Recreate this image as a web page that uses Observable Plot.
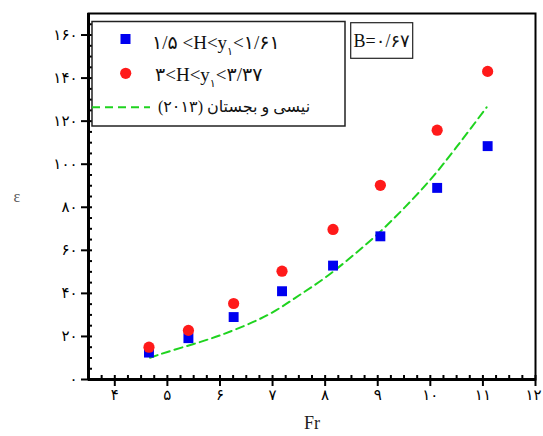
<!DOCTYPE html>
<html><head><meta charset="utf-8">
<script src="https://cdn.jsdelivr.net/npm/d3@7"></script>
<script src="https://cdn.jsdelivr.net/npm/@observablehq/plot@0.6"></script>
<style>body{margin:0;background:#fff} svg{display:block}</style>
</head><body><div id="chart"></div>
<script>
// Data
const fr = [4.65, 5.40, 6.26, 7.18, 8.15, 9.05, 10.13, 11.09];
const epsLow = [12.5, 19.2, 29.0, 41.0, 52.9, 66.5, 89.0, 108.4];   // 1.5<H<y1<1.61
const epsHigh = [15.0, 22.8, 35.3, 50.3, 69.7, 90.2, 115.8, 143.1]; // 3<H<y1<3.37
const curveFr = [4.67, 5.0, 5.5, 6.0, 6.5, 7.0, 7.5, 8.0, 8.5, 9.0, 9.5, 10.0, 10.5, 11.07];
const curveEps = [10.1, 12.8, 16.5, 20.5, 25.3, 31.2, 39.0, 47.3, 57.0, 67.6, 79.6, 92.8, 108.0, 126.4];
const xTicks = [4, 5, 6, 7, 8, 9, 10, 11, 12];
const xTickLabels = ["۴", "۵", "۶", "۷", "۸", "۹", "۱۰", "۱۱", "۱۲"];
const yTicks = [0, 20, 40, 60, 80, 100, 120, 140, 160];
const yTickLabels = ["۰", "۲۰", "۴۰", "۶۰", "۸۰", "۱۰۰", "۱۲۰", "۱۴۰", "۱۶۰"];
const xMinor = d3.range(3.75, 12.01, 0.25);
const yMinor = d3.range(5, 170, 5);
const legendLow = ["۱/۵ <H<y", "۱", "<۱/۶۱"];
const legendHigh = ["۳<H<y", "۱", "<۳/۳۷"];
const legendCurve = "نیسی و بجستان (۲۰۱۳)";
const bLabel = "B=۰/۶۷";
const xLabel = "Fr";
const yLabel = "ε";

const blue = "#0000f0", red = "#ff1a1a", green = "#1fd31f";
const font = "'Liberation Serif','DejaVu Sans',serif";

const low = fr.map((x, i) => ({x, y: epsLow[i]}));
const high = fr.map((x, i) => ({x, y: epsHigh[i]}));
const curve = curveFr.map((x, i) => ({x, y: curveEps[i]}));
const xFmt = (d) => xTickLabels[xTicks.indexOf(d)];
const yFmt = (d) => yTickLabels[yTicks.indexOf(d)];

const plot = Plot.plot({
  width: 543, height: 436,
  marginLeft: 88, marginRight: 8, marginTop: 13, marginBottom: 57,
  style: {fontFamily: font, fontSize: "15px", background: "white", color: "black"},
  x: {domain: [3.5, 12]},
  y: {domain: [0, 170]},
  marks: [
    Plot.frame({stroke: "black", strokeWidth: 2}),
    Plot.ruleX([3.5], {stroke: "black", strokeWidth: 3}),
    Plot.ruleY([0], {stroke: "black", strokeWidth: 3}),
    Plot.axisX({ticks: xMinor, tickSize: 4, insetBottom: 4, text: null, label: null, strokeWidth: 2}),
    Plot.axisY({ticks: yMinor, tickSize: 4, insetLeft: 4, text: null, label: null, strokeWidth: 2}),
    Plot.axisX({ticks: xTicks, tickSize: 7, text: null, label: null, strokeWidth: 2}),
    Plot.axisX({ticks: xTicks.slice(0, -1), tickSize: 7, tickPadding: 3, stroke: "none", tickFormat: xFmt, label: null, fontSize: 15}),
    Plot.axisX({ticks: xTicks.slice(-1), tickSize: 7, tickPadding: 3, stroke: "none", dx: -2, tickFormat: xFmt, label: null, fontSize: 15}),
    Plot.axisY({ticks: yTicks, tickSize: 7, tickPadding: 4, tickFormat: yFmt, label: null, strokeWidth: 2, fontSize: 15}),
    Plot.line(curve, {x: "x", y: "y", stroke: green, strokeWidth: 2, strokeDasharray: "8,5", curve: "natural"}),
    Plot.dot(low, {x: "x", y: "y", symbol: "square", fill: blue, r: 5.6}),
    Plot.dot(high, {x: "x", y: "y", symbol: "circle", fill: red, r: 5.6}),
    Plot.text([xLabel], {frameAnchor: "bottom", dy: 49, fontSize: 18, fill: "#222"}),
    Plot.text([yLabel], {frameAnchor: "left", dx: -75, fontSize: 16, fill: "#555"})
  ]
});

const svg = d3.select(plot);
const g = svg.append("g").attr("font-family", font).attr("text-anchor", "start");
// legend box
g.append("rect").attr("x", 92).attr("y", 21.5).attr("width", 253).attr("height", 104.5)
  .attr("fill", "white").attr("stroke", "#222").attr("stroke-width", 1.5);
g.append("rect").attr("x", 120.5).attr("y", 34).attr("width", 10).attr("height", 10).attr("fill", blue);
g.append("circle").attr("cx", 125.7).attr("cy", 73.3).attr("r", 5.6).attr("fill", red);
g.append("line").attr("x1", 92).attr("x2", 150).attr("y1", 107.3).attr("y2", 107.3)
  .attr("stroke", green).attr("stroke-width", 2).attr("stroke-dasharray", "8,5");
function subText(parts, x, y) {
  const t = g.append("text").attr("x", x).attr("y", y).attr("text-anchor", "start")
    .attr("font-size", 19).attr("fill", "#111");
  t.append("tspan").text(parts[0]);
  t.append("tspan").attr("dy", 6).attr("font-size", 11).text(parts[1]);
  t.append("tspan").attr("dy", -6).text(parts[2]);
}
subText(legendLow, 152, 48.5);
subText(legendHigh, 155, 81);
g.append("text").attr("x", 234).attr("y", 112).attr("direction", "rtl").attr("text-anchor", "middle")
  .attr("font-size", 16).attr("fill", "#111").text(legendCurve);
// B box
g.append("rect").attr("x", 350.7).attr("y", 22.7).attr("width", 62).attr("height", 35.6)
  .attr("fill", "white").attr("stroke", "#222").attr("stroke-width", 1.2);
g.append("text").attr("x", 381.7).attr("y", 47).attr("text-anchor", "middle")
  .attr("font-size", 18).attr("fill", "#111").text(bLabel);

document.getElementById("chart").appendChild(plot);
</script>
</body></html>
